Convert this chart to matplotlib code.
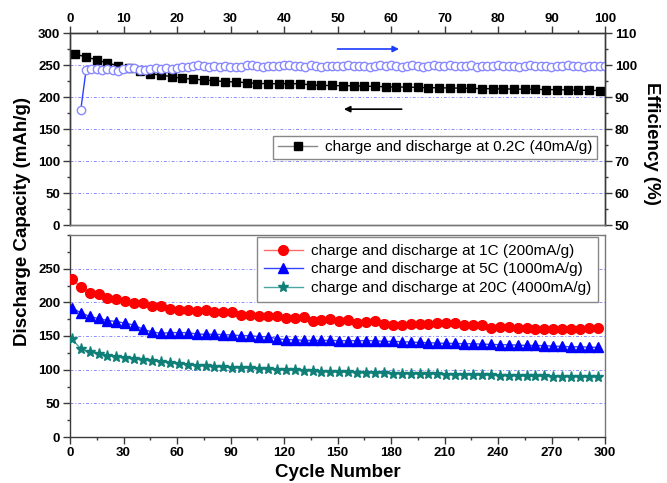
import matplotlib
matplotlib.use("Agg")
import matplotlib.pyplot as plt
from matplotlib.ticker import MultipleLocator
from matplotlib.lines import Line2D

plt.rcParams['font.family'] = ['Liberation Sans', 'DejaVu Sans']

# ---------------- data ----------------
# top panel: 0.2C capacity (every 2 cycles) and coulombic efficiency (every cycle)
cycles_02c = list(range(1, 100, 2))
cap_02c = [267, 262.5, 258, 253, 249, 245, 240, 236.5, 234, 232,
           229, 228, 226.5, 225.5, 224, 223.5, 222.5, 221, 221, 220.5,
           221, 220.5, 219, 218, 218, 217.5, 217.5, 217, 216.5, 216,
           215.5, 215.5, 215, 214.5, 214.5, 214, 214, 213.5, 213, 213,
           212.5, 212.5, 212, 212, 211.5, 211.5, 211, 210.5, 210.5, 210]

cycles_eff = list(range(2, 101))
efficiency = [85.8, 98.4, 98.6, 98.6, 98.5, 98.6, 98.5, 98.1, 98.7, 99.0,
              99.2, 98.5, 98.3, 98.6, 99.1, 98.9, 99.0, 98.9, 99.1, 99.3,
              99.5, 99.7, 99.9, 99.6, 99.5, 99.6, 99.5, 99.6, 99.4, 99.5,
              99.3, 99.9, 100.0, 99.6, 99.5, 99.7, 99.8, 99.6, 99.9, 100.0,
              99.8, 99.7, 99.5, 99.9, 99.6, 99.5, 99.7, 99.6, 99.8, 99.7,
              99.9, 99.6, 99.8, 99.7, 99.5, 99.8, 99.9, 99.6, 100.0, 99.8,
              99.5, 99.7, 99.9, 99.6, 99.4, 99.8, 99.9, 99.6, 99.7, 100.0,
              99.8, 99.6, 99.7, 99.9, 99.5, 99.8, 99.7, 99.6, 99.9, 99.7,
              99.8, 99.6, 99.4, 99.7, 99.9, 99.6, 99.8, 99.7, 99.5, 99.8,
              99.7, 99.9, 99.6, 99.8, 99.5, 99.7, 99.8, 99.7, 99.8]

# bottom panel: high-rate cycling (every 5 cycles)
cycles_rate = list(range(1, 300, 5))
cap_1c = [234, 223, 214, 213, 206, 204.5, 201.5, 199.5, 199.5, 195,
          195, 190, 189, 189, 187, 188, 186, 185, 185, 181,
          181, 180, 179, 179, 176, 177, 178, 173, 174, 175,
          173, 174, 170, 171, 172, 168, 167, 167, 168, 168,
          168, 169, 169, 169, 166, 167, 166, 162, 164, 163,
          162, 162, 161, 161, 160, 160, 160, 161, 162, 162]
cap_5c = [192, 184.5, 179, 176, 173, 171.5, 169, 166, 160, 156,
          154, 155, 155, 155, 153, 152.5, 152.5, 152, 151.5, 150.5,
          150.5, 149, 149, 146, 144.5, 144.5, 143.5, 143.5, 143.5, 143.5,
          143, 143, 143, 143, 143, 142, 142, 141.5, 141, 140.5,
          140, 139.5, 139, 139, 138.5, 138.5, 138, 137.5, 137, 137,
          136.5, 136, 136, 135.5, 135, 134.5, 134, 134, 133.5, 133]
cap_20c = [146, 131, 126, 123, 121, 119, 117, 116, 114, 113,
           112, 110, 108.5, 107, 106, 105.5, 104.5, 104, 103, 102.5,
           102, 101, 100.5, 100, 99.5, 99, 98.5, 98, 97, 96.5,
           96, 96, 95.5, 95, 95, 94.5, 94, 94, 93.5, 93.5,
           93, 93, 92.5, 92.5, 92, 92, 91.5, 91.5, 91, 91,
           90.5, 90.5, 90, 90, 89.5, 89.5, 89, 89, 88.5, 88.5]

label_02c = "charge and discharge at 0.2C (40mA/g)"
label_1c = "charge and discharge at 1C (200mA/g)"
label_5c = "charge and discharge at 5C (1000mA/g)"
label_20c = "charge and discharge at 20C (4000mA/g)"

# ---------------- figure ----------------
fig = plt.figure(figsize=(6.67, 4.83), dpi=100)
W, H = 667, 483
left, right = 70, 605
ax1 = fig.add_axes([left / W, (H - 225) / H, (right - left) / W, 192 / H])
ax2 = fig.add_axes([left / W, (H - 437) / H, (right - left) / W, 202 / H])

spine_c = '#3a3a3a'
grid_kw = dict(color='#8c8cff', linestyle=(0, (3, 2, 1, 2)), linewidth=0.7)
TF = 9.5   # tick font size
LF = 11    # legend font size

# ---- top panel ----
ax1.set_xlim(0, 100)
ax1.set_ylim(0, 300)
ax1.plot(cycles_02c, cap_02c, color='black', marker='s', markersize=5.5,
         linewidth=1, zorder=3)
ax1.yaxis.set_major_locator(MultipleLocator(50))
ax1.yaxis.set_minor_locator(MultipleLocator(25))
ax1.xaxis.set_major_locator(MultipleLocator(10))
ax1.xaxis.set_minor_locator(MultipleLocator(5))
ax1.tick_params(axis='x', which='both', top=True, bottom=False,
                labeltop=True, labelbottom=False, direction='out', pad=1)
ax1.tick_params(axis='y', which='both', left=True, right=False, direction='out', pad=2)
ax1.tick_params(which='major', length=5, width=1, color=spine_c)
ax1.tick_params(which='minor', length=2.5, width=1, color=spine_c)
for lab in ax1.get_xticklabels() + ax1.get_yticklabels():
    lab.set_fontsize(TF); lab.set_fontweight('bold')
ax1.grid(axis='y', which='major', **grid_kw)
ax1.set_axisbelow(True)

ax1r = ax1.twinx()
ax1r.set_ylim(50, 110)
ax1r.plot(cycles_eff, efficiency, color='#2a40ff', linewidth=1, marker='o',
          markersize=6, markerfacecolor='white', markeredgecolor='#8888ff',
          markeredgewidth=1)
ax1r.yaxis.set_major_locator(MultipleLocator(10))
ax1r.yaxis.set_minor_locator(MultipleLocator(5))
ax1r.tick_params(axis='y', which='both', direction='out', pad=2, color=spine_c)
ax1r.tick_params(which='major', length=5, width=1)
ax1r.tick_params(which='minor', length=2.5, width=1)
for lab in ax1r.get_yticklabels():
    lab.set_fontsize(TF); lab.set_fontweight('bold')

for a in (ax1, ax1r, ax2):
    for s in a.spines.values():
        s.set_color(spine_c)
        s.set_linewidth(1)
ax1r.spines['bottom'].set_color('#777777')
ax1.spines['bottom'].set_color('#777777')
ax2.spines['top'].set_color('#777777')
ax2.spines['right'].set_color('#777777')

# arrows
ax1.annotate('', xy=(61.5, 275), xytext=(50, 275),
             arrowprops=dict(arrowstyle='-|>', color='#1a3cff', lw=1.2,
                             mutation_scale=9, shrinkA=0, shrinkB=0))
ax1.annotate('', xy=(51.2, 181), xytext=(62, 181),
             arrowprops=dict(arrowstyle='-|>', color='black', lw=1.2,
                             mutation_scale=9, shrinkA=0, shrinkB=0))

h02 = Line2D([], [], color='#888888', lw=1, marker='s', markersize=5.5,
             markerfacecolor='black', markeredgecolor='black')
leg1 = ax1r.legend([h02], [label_02c], loc='upper right',
                   bbox_to_anchor=(0.985, 0.465), borderaxespad=0,
                   fontsize=LF, fancybox=False, edgecolor='#888888',
                   handlelength=2.6, handletextpad=0.5, borderpad=0.3,
                   framealpha=1)
leg1.get_frame().set_linewidth(1)

# ---- bottom panel ----
ax2.set_xlim(0, 300)
ax2.set_ylim(0, 300)
ax2.plot(cycles_rate, cap_1c, color='#ff6b6b', lw=1, marker='o', markersize=7,
         markerfacecolor='#ff0000', markeredgecolor='#ff0000', label=label_1c, zorder=3)
ax2.plot(cycles_rate, cap_5c, color='#3344ff', lw=1, marker='^', markersize=7,
         markerfacecolor='#0000ff', markeredgecolor='#0000ff', label=label_5c, zorder=3)
ax2.plot(cycles_rate, cap_20c, color='#4aa8a0', lw=1, marker='*', markersize=8,
         markerfacecolor='#0f7f78', markeredgecolor='#0f7f78', label=label_20c, zorder=3)
ax2.set_yticks([0, 50, 100, 150, 200, 250])
ax2.yaxis.set_minor_locator(MultipleLocator(25))
ax2.xaxis.set_major_locator(MultipleLocator(30))
ax2.xaxis.set_minor_locator(MultipleLocator(15))
ax2.tick_params(axis='both', which='both', direction='out', top=False, right=False,
                pad=2, color=spine_c)
ax2.tick_params(which='major', length=5, width=1)
ax2.tick_params(which='minor', length=2.5, width=1)
for lab in ax2.get_xticklabels() + ax2.get_yticklabels():
    lab.set_fontsize(TF); lab.set_fontweight('bold')
ax2.grid(axis='y', which='major', **grid_kw)
ax2.set_axisbelow(True)
leg2 = ax2.legend(loc='upper right', bbox_to_anchor=(0.987, 0.99), borderaxespad=0,
                  fontsize=LF, fancybox=False, edgecolor='#888888',
                  handlelength=2.6, handletextpad=0.5, borderpad=0.45,
                  labelspacing=0.3, framealpha=1)
leg2.get_frame().set_linewidth(1)

# ---- axis titles ----
fig.text(0.033, 0.542, "Discharge Capacity (mAh/g)", rotation=90, ha='center',
         va='center', fontsize=13.5, fontweight='bold')
fig.text(0.977, 0.704, "Efficiency (%)", rotation=270, ha='center', va='center',
         fontsize=13.5, fontweight='bold')
fig.text(0.507, 0.021, "Cycle Number", ha='center', va='center',
         fontsize=13.5, fontweight='bold')

fig.savefig("out.png", dpi=100)
